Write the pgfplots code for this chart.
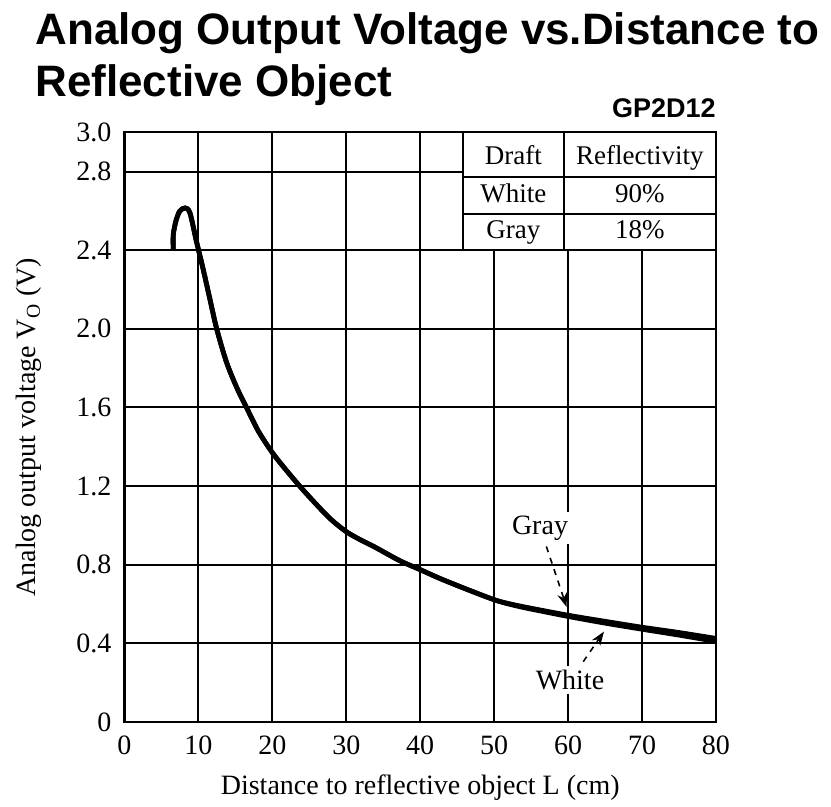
\documentclass[border=0pt]{standalone}
\usepackage{fontspec}
\setmainfont{Liberation Serif}
\newfontfamily\arialfont{Liberation Sans}
\usepackage{pgfplots}
\pgfplotsset{compat=1.18}
\usetikzlibrary{arrows.meta}

\newcommand{\lbl}{\fontsize{14pt}{16pt}\selectfont}
\newcommand{\tbl}{\fontsize{13.5pt}{15pt}\selectfont}

\begin{document}
\begin{tikzpicture}
\path[use as bounding box] (-62.25pt,-42.5pt) rectangle (353.25pt,361pt);
\begin{axis}[
    at={(0pt,0pt)}, anchor=south west,
    scale only axis,
    width=295.75pt, height=294.85pt,
    xmin=0, xmax=80, ymin=0, ymax=3,
    clip=false,
    xtick={0,10,20,30,40,50,60,70,80},
    xticklabels={0,10,20,30,40,50,60,70,80},
    ytick={0,0.4,0.8,1.2,1.6,2.0,2.4,2.8,3.0},
    yticklabels={0,0.4,0.8,1.2,1.6,2.0,2.4,2.8,3.0},
    grid=major,
    grid style={black, line width=1pt},
    axis line style={line width=1.2pt},
    major tick length=0pt,
    tick label style={font=\lbl, inner sep=0pt},
    yticklabel style={xshift=-6.4pt},
    xticklabel style={yshift=-6.5pt},
    xlabel={Distance to reflective object L (cm)},
    ylabel={Analog output voltage V\textsubscript{O} (V)},
    every axis x label/.style={at={(axis description cs:0.5,-0.1238)}, anchor=base, font=\lbl},
    every axis y label/.style={at={(axis description cs:-0.1615,0.5)}, rotate=90, anchor=center, font=\lbl},
]
% White (90%)
\addplot[black, line width=2.4pt, smooth] coordinates {
    (6.6,2.40) (6.6,2.48) (7.0,2.555) (7.5,2.60) (8.2,2.615) (8.85,2.59)
    (9.7,2.45) (10.6,2.31) (11.5,2.16) (12.47,2.00) (13.8,1.83) (15.2,1.70)
    (16.5,1.60) (18.1,1.48) (20.0,1.37) (21.9,1.28) (23.7,1.20) (25.5,1.125)
    (27.8,1.035) (30.0,0.968) (32.0,0.925) (34.0,0.887) (37.26,0.82) (40.0,0.775)
    (42.67,0.73) (46.3,0.675) (50.0,0.622) (52.0,0.60) (54.4,0.579)
    (60.0,0.537) (65.0,0.503) (70.0,0.472) (75.0,0.442) (80.0,0.410)
};
% Gray (18%)
\addplot[black, line width=2.4pt, smooth] coordinates {
    (6.6,2.40) (6.6,2.48) (7.0,2.555) (7.5,2.60) (8.2,2.615) (8.85,2.59)
    (9.7,2.45) (10.6,2.31) (11.5,2.16) (12.47,2.00) (13.8,1.83) (15.2,1.70)
    (16.5,1.60) (18.1,1.48) (20.0,1.37) (21.9,1.28) (23.7,1.20) (25.5,1.125)
    (27.8,1.035) (30.0,0.968) (32.0,0.925) (34.0,0.887) (37.26,0.82) (40.0,0.775)
    (42.67,0.73) (46.3,0.675) (50.0,0.622) (52.0,0.602) (54.4,0.583)
    (60.0,0.543) (65.0,0.512) (70.0,0.482) (75.0,0.455) (80.0,0.425)
};

% reflectivity table
\fill[white] (axis cs:45.8,2.4) rectangle (axis cs:80,3.0);
\draw[line width=1pt] (axis cs:45.8,2.4) rectangle (axis cs:80,3.0);
\draw[line width=1pt] (axis cs:59.4,2.4) -- (axis cs:59.4,3.0);
\draw[line width=1pt] (axis cs:45.8,2.775) -- (axis cs:80,2.775);
\draw[line width=1pt] (axis cs:45.8,2.586) -- (axis cs:80,2.586);
\node[font=\tbl, anchor=base] at (axis cs:52.6,2.837) {Draft};
\node[font=\tbl, anchor=base] at (axis cs:69.7,2.837) {Reflectivity};
\node[font=\tbl, anchor=base] at (axis cs:52.6,2.645) {White};
\node[font=\tbl, anchor=base] at (axis cs:69.7,2.645) {90\%};
\node[font=\tbl, anchor=base] at (axis cs:52.6,2.462) {Gray};
\node[font=\tbl, anchor=base] at (axis cs:69.7,2.462) {18\%};

% curve labels
\node[font=\lbl, fill=white, inner sep=2pt] at (axis cs:56.2,0.987) {Gray};
\node[font=\lbl, fill=white, inner sep=2pt] at (axis cs:60.25,0.214) {White};
\draw[dashed, line width=0.8pt, -{Stealth[length=7pt,width=5pt]}] (axis cs:57.06,0.893) -- (axis cs:59.8,0.585);
\draw[dashed, line width=0.8pt, -{Stealth[length=7pt,width=5pt]}] (axis cs:62.05,0.307) -- (axis cs:64.85,0.46);

% frame redrawn over the table
\draw[line width=1.2pt] (axis cs:0,0) rectangle (axis cs:80,3);
\end{axis}

\node[anchor=base west, font=\arialfont\bfseries\fontsize{22pt}{26pt}\selectfont, inner sep=0pt]
    at (-44.75pt,338.5pt) {Analog Output Voltage vs.Distance to};
\node[anchor=base west, font=\arialfont\bfseries\fontsize{22pt}{26pt}\selectfont, inner sep=0pt]
    at (-44.75pt,312.5pt) {Reflective Object};
\node[anchor=base east, font=\arialfont\bfseries\fontsize{13.5pt}{15pt}\selectfont, inner sep=0pt]
    at (295.75pt,302pt) {GP2D12};
\end{tikzpicture}
\end{document}
